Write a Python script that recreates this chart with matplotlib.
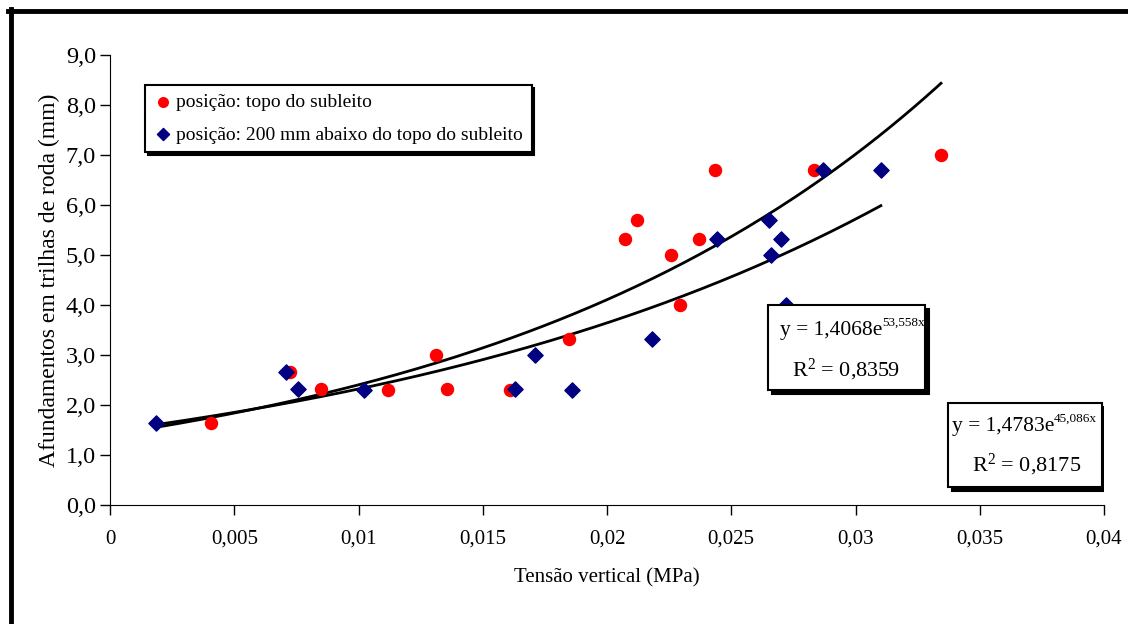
import numpy as np
import matplotlib
matplotlib.use("Agg")
import matplotlib.pyplot as plt
from matplotlib.patches import Rectangle
from matplotlib.transforms import offset_copy

plt.rcParams['font.family'] = ['Liberation Serif', 'DejaVu Serif']
plt.rcParams['mathtext.fontset'] = 'custom'
plt.rcParams['mathtext.rm'] = 'Liberation Serif'
plt.rcParams['mathtext.it'] = 'Liberation Serif'

# posição: topo do subleito
red_x = [0.00406, 0.00724, 0.00849, 0.01119, 0.01312, 0.01356, 0.0161, 0.01847,
         0.02072, 0.02121, 0.02258, 0.02294, 0.0237, 0.02435, 0.02833, 0.03344]
red_y = [1.65, 2.67, 2.33, 2.3, 3.0, 2.33, 2.3, 3.33,
         5.33, 5.7, 5.0, 4.0, 5.33, 6.7, 6.7, 7.0]

# posição: 200 mm abaixo do topo do subleito
blue_x = [0.00185, 0.00708, 0.00757, 0.01022, 0.0163, 0.0171, 0.0186, 0.02181,
          0.02443, 0.02652, 0.0266, 0.027, 0.0272, 0.0287, 0.03102]
blue_y = [1.65, 2.67, 2.33, 2.3, 2.33, 3.0, 2.3, 3.33,
          5.33, 5.7, 5.0, 5.33, 4.0, 6.7, 6.7]

# exponential trendlines y = a*exp(b*x), R^2
red_fit = (1.4068, 53.558, 0.8359)
blue_fit = (1.4783, 45.086, 0.8175)

xticks = [0, 0.005, 0.01, 0.015, 0.02, 0.025, 0.03, 0.035, 0.04]
xtick_labels = ['0', '0,005', '0,01', '0,015', '0,02', '0,025', '0,03', '0,035', '0,04']
yticks = np.arange(0, 9.5, 1.0)
ytick_labels = [('%.1f' % v).replace('.', ',') for v in yticks]

fig = plt.figure(figsize=(11.28, 6.24), dpi=100)
ax = fig.add_axes([110 / 1128, 1 - 505 / 624, 994 / 1128, 450 / 624])


def px(x, y):
    # pixel position of the picture -> axes fraction
    return (x - 110) / 994, (505 - y) / 450


# outer frame (only top and left visible)
fig.add_artist(plt.Line2D([8 / 1128, 1.0], [1 - 11 / 624, 1 - 11 / 624],
                          color='black', lw=3.5, transform=fig.transFigure))
fig.add_artist(plt.Line2D([11 / 1128, 11 / 1128], [1 - 9 / 624, 0.0],
                          color='black', lw=3.5, transform=fig.transFigure))

xs_r = np.linspace(min(blue_x), max(red_x), 200)
xs_b = np.linspace(min(blue_x), max(blue_x), 200)
ax.plot(xs_r, red_fit[0] * np.exp(red_fit[1] * xs_r), color='black', lw=2, zorder=2)
ax.plot(xs_b, blue_fit[0] * np.exp(blue_fit[1] * xs_b), color='black', lw=2, zorder=2)

ax.scatter(red_x, red_y, s=75, color='#ff0000', marker='o', zorder=3,
           label='posição: topo do subleito')
ax.scatter(blue_x, blue_y, s=60, color='#000080', marker='D', zorder=4,
           label='posição: 200 mm abaixo do topo do subleito')

ax.set_xlim(0, 0.04)
ax.set_ylim(0, 9)
ax.set_xticks(xticks)
ax.set_xticklabels(xtick_labels)
ax.set_yticks(yticks)
ax.set_yticklabels(ytick_labels)
ax.tick_params(direction='out', length=7, width=1)
ax.tick_params(axis='x', labelsize=15, pad=11)
ax.tick_params(axis='y', labelsize=17.5, pad=3)
ax.spines['top'].set_visible(False)
ax.spines['right'].set_visible(False)
ax.set_xlabel('Tensão vertical (MPa)', fontsize=15, labelpad=14)
ax.set_ylabel('Afundamentos em trilhas de roda (mm)', fontsize=17, labelpad=4)

leg = ax.legend(loc='upper left', bbox_to_anchor=(35 / 994, 420 / 450), fontsize=14,
                frameon=True, fancybox=False, shadow={'color': 'black', 'alpha': 1},
                handletextpad=0.15, borderpad=0.45, labelspacing=0.75, handlelength=1.0,
                markerscale=0.8, borderaxespad=0)
leg.get_frame().set_edgecolor('black')
leg.get_frame().set_linewidth(1.5)


def eq_box(box, base_end, line1_y, line2, a, b, r2):
    # box: (left, top, right, bottom) in pixels
    x0, y0 = px(box[0], box[3])
    x1, y1 = px(box[2], box[1])
    shadow = offset_copy(ax.transAxes, fig=fig, x=4, y=-4, units='dots')
    ax.add_patch(Rectangle((x0, y0), x1 - x0, y1 - y0, transform=shadow,
                           fc='black', ec='black', lw=1.5, zorder=5))
    ax.add_patch(Rectangle((x0, y0), x1 - x0, y1 - y0, transform=ax.transAxes,
                           fc='white', ec='black', lw=1.5, zorder=6))
    base = ax.text(*px(base_end, line1_y), 'y = %se' % ('%.4f' % a).replace('.', ','),
                   transform=ax.transAxes, ha='right', va='center', fontsize=15.5,
                   zorder=7)
    ax.annotate('%sx' % ('%.3f' % b).replace('.', ','), xy=(1, 0.62), xycoords=base,
                ha='left', va='bottom', fontsize=9.5, zorder=7)
    ax.text(*px(*line2), 'R$^{2}$ = %s' % ('%.4f' % r2).replace('.', ','),
            transform=ax.transAxes, ha='center', va='center', fontsize=16, zorder=7)


eq_box((768, 305, 925, 390), 882, 331, (846, 370), *red_fit)
eq_box((948, 403, 1102, 487), 1054, 427, (1027, 465), *blue_fit)

fig.savefig('out.png', dpi=100)
